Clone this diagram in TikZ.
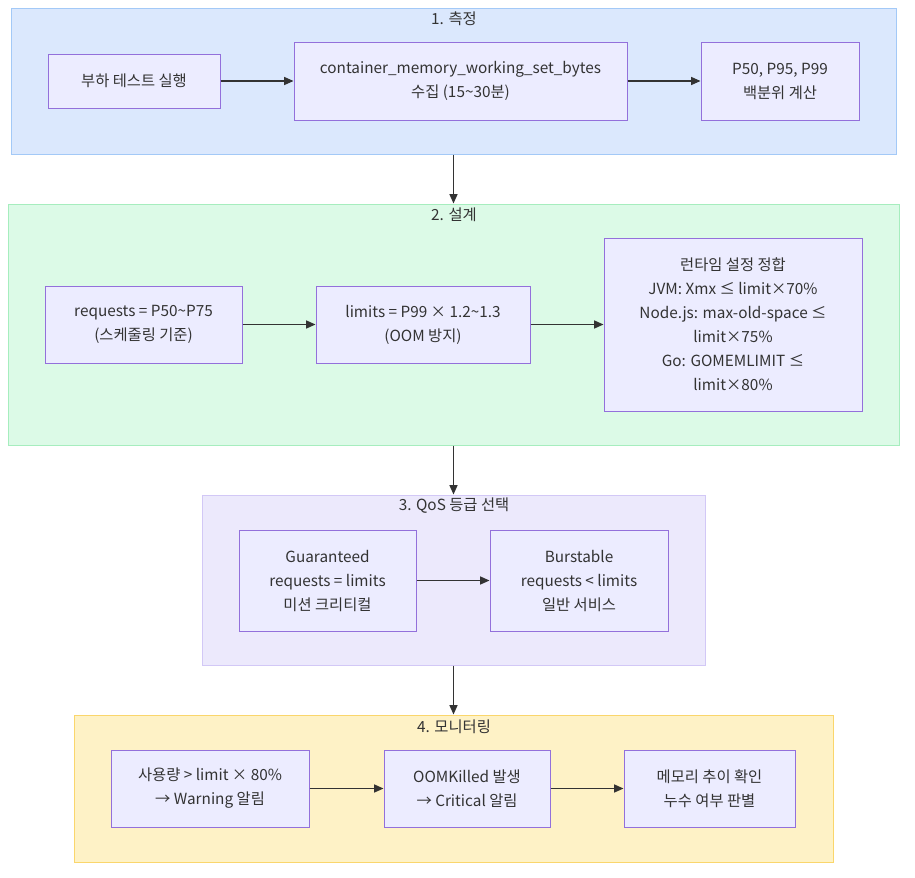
\documentclass[tikz,border=0pt]{standalone}
\usepackage{fontspec}
\setmainfont{Noto Sans CJK KR}
\usetikzlibrary{arrows.meta}

\definecolor{nodefill}{HTML}{ECECFF}
\definecolor{nodeline}{HTML}{9370DB}
\definecolor{inktext}{HTML}{333333}
\definecolor{measfill}{HTML}{DBE8FD}
\definecolor{measline}{HTML}{A3C9F7}
\definecolor{designfill}{HTML}{DCFAE7}
\definecolor{designline}{HTML}{A6EDBE}
\definecolor{qosfill}{HTML}{ECE9FC}
\definecolor{qosline}{HTML}{D2C8F6}
\definecolor{monfill}{HTML}{FEF2C6}
\definecolor{monline}{HTML}{FAD66C}

\begin{document}
\begin{tikzpicture}[
    x=0.75pt, y=-0.75pt,
    box/.style={
        rectangle,
        draw=nodeline,
        fill=nodefill,
        line width=0.75pt,
        text=inktext,
        align=center,
        inner sep=0pt,
        font=\fontsize{11.5}{18}\selectfont
    },
    group/.style={
        rectangle,
        line width=0.75pt,
        inner sep=0pt
    },
    title/.style={
        text=inktext,
        font=\fontsize{11.5}{18}\selectfont
    },
    arrow/.style={-{Triangle[length=7pt,width=6pt]}, line width=0.9pt, draw=inktext}
]

\useasboundingbox (0,0) rectangle (915,878);

% 1. measurement
\node[group, fill=measfill, draw=measline, minimum width=663.75pt, minimum height=109.5pt] (measure) at (453.5,81) {};
\node[title] (measuretitle) at (454,19) {1. 측정};
\node[box, minimum width=129pt, minimum height=40.5pt] (loadtest) at (134,81) {부하 테스트 실행};
\node[box, minimum width=249.75pt, minimum height=58.5pt] (collect) at (460.5,81) {container\_memory\_working\_set\_bytes\\수집 (15\textasciitilde30분)};
\node[box, minimum width=118.5pt, minimum height=58.5pt] (percentile) at (780,81) {P50, P95, P99\\백분위 계산};

% 2. design
\node[group, fill=designfill, draw=designline, minimum width=668.25pt, minimum height=180.75pt] (design) at (453.5,324.5) {};
\node[title] (designtitle) at (454,215) {2. 설계};
\node[box, minimum width=147.75pt, minimum height=57.75pt] (requests) at (143.5,324.5) {requests = P50\textasciitilde P75\\(스케줄링 기준)};
\node[box, minimum width=160.5pt, minimum height=57.75pt] (limits) at (423,324.5) {limits = P99 × 1.2\textasciitilde1.3\\(OOM 방지)};
\node[box, minimum width=193.5pt, minimum height=129.75pt] (runtime) at (733,324.5) {런타임 설정 정합\\JVM: Xmx ≤ limit×70\%\\Node.js: max-old-space ≤\\limit×75\%\\Go: GOMEMLIMIT ≤\\limit×80\%};

% 3. QoS class
\node[group, fill=qosfill, draw=qosline, minimum width=377.25pt, minimum height=127.5pt] (qos) at (453.5,580) {};
\node[title] (qostitle) at (454,506) {3. QoS 등급 선택};
\node[box, minimum width=132.75pt, minimum height=75.75pt] (guaranteed) at (327.5,580.5) {Guaranteed\\requests = limits\\미션 크리티컬};
\node[box, minimum width=133.5pt, minimum height=75.75pt] (burstable) at (579,580.5) {Burstable\\requests < limits\\일반 서비스};

% 4. monitoring
\node[group, fill=monfill, draw=monline, minimum width=569.25pt, minimum height=110.25pt] (monitor) at (453.5,788.5) {};
\node[title] (monitortitle) at (454,727) {4. 모니터링};
\node[box, minimum width=148.5pt, minimum height=57.75pt] (warning) at (210,788.5) {사용량 > limit × 80\%\\→ Warning 알림};
\node[box, minimum width=124.5pt, minimum height=57.75pt] (oomkilled) at (467,788.5) {OOMKilled 발생\\→ Critical 알림};
\node[box, minimum width=128.25pt, minimum height=57.75pt] (trend) at (709.5,788.5) {메모리 추이 확인\\누수 여부 판별};

\draw[arrow] (loadtest.east) -- (collect.west);
\draw[arrow] (collect.east) -- (percentile.west);
\draw[arrow] (requests.east) -- (limits.west);
\draw[arrow] (limits.east) -- (runtime.west);
\draw[arrow] (guaranteed.east) -- (burstable.west);
\draw[arrow] (warning.east) -- (oomkilled.west);
\draw[arrow] (oomkilled.east) -- (trend.west);

\draw[arrow] (measure.south) -- (design.north);
\draw[arrow] (design.south) -- (qos.north);
\draw[arrow] (qos.south) -- (monitor.north);

\end{tikzpicture}
\end{document}
